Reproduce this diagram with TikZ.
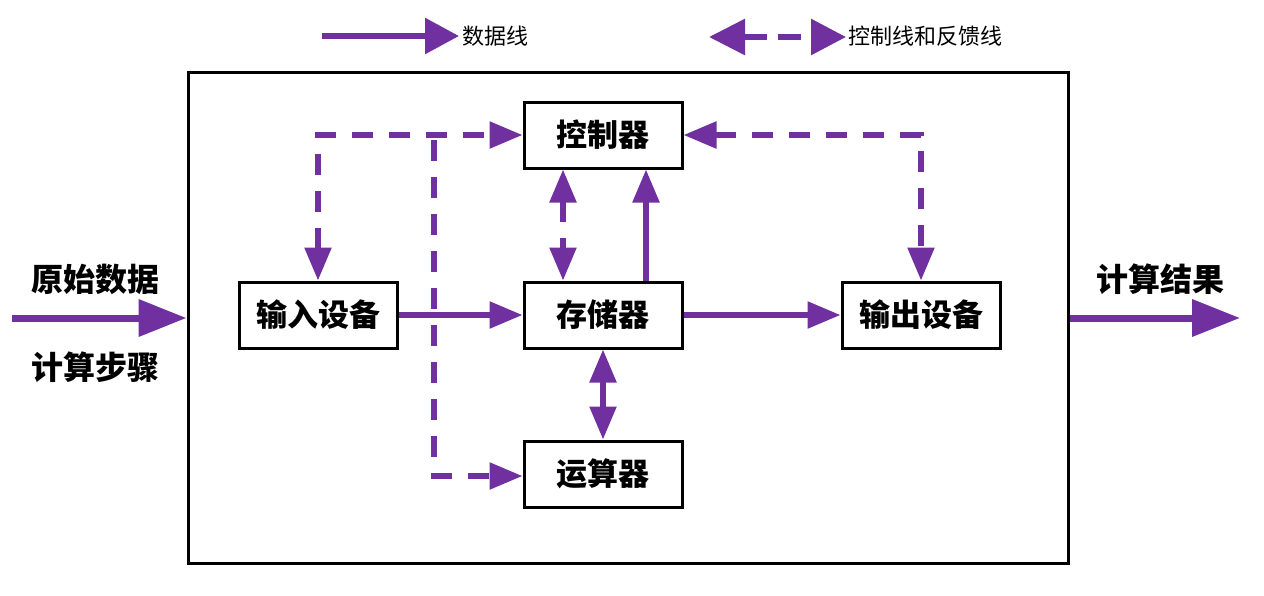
\documentclass[tikz,border=0pt]{standalone}
\usepackage{fontspec}
\setmainfont{Noto Sans CJK SC}
\usetikzlibrary{arrows.meta}
\definecolor{purp}{HTML}{7030A0}
\tikzset{
  box/.style={draw=black, line width=3pt, fill=white, minimum width=158pt, minimum height=66pt, inner sep=0pt, font=\fontsize{31}{34}\selectfont\bfseries},
  data/.style={draw=purp, line width=5.5pt, -{Triangle[length=33pt,width=26pt]}},
  data2/.style={draw=purp, line width=5.5pt, {Triangle[length=33pt,width=26pt]}-{Triangle[length=33pt,width=26pt]}},
  ctl/.style={draw=purp, line width=5.5pt, dash pattern=on 21pt off 16pt, -{Triangle[length=33pt,width=26pt]}},
  ctl2/.style={draw=purp, line width=5.5pt, dash pattern=on 21pt off 16pt, {Triangle[length=33pt,width=26pt]}-{Triangle[length=33pt,width=26pt]}},
  big/.style={draw=purp, line width=7pt, -{Triangle[length=48pt,width=36pt]}},
  side/.style={font=\fontsize{32}{36}\selectfont\bfseries},
  legend/.style={font=\fontsize{22}{25}\selectfont, anchor=west, inner sep=0pt}
}
\begin{document}
\begin{tikzpicture}[x=1pt,y=-1pt]
\useasboundingbox (0,0) rectangle (1264,595);
% frame
\node[draw=black, line width=3pt, minimum width=880pt, minimum height=491pt, inner sep=0pt] (frame) at (628,317.5) {};
% boxes
\node[box] (ctrl) at (603,135) {控制器};
\node[box] (store) at (603,315) {存储器};
\node[box] (alu) at (603,474) {运算器};
\node[box] (in) at (318,315) {输入设备};
\node[box] (out) at (921,315) {输出设备};
% data lines
\draw[data] (in.east) -- (store.west);
\draw[data] (store.east) -- (out.west);
\draw[data] ([xshift=43pt]store.north) -- ([xshift=43pt]ctrl.south);
\draw[data2] (store.south) -- (alu.north);
% control lines
\draw[ctl2] ([xshift=-40pt]ctrl.south) -- ([xshift=-40pt]store.north);
\draw[ctl2] (in.north) |- (ctrl.west);
\coordinate (br) at (434,140);
\draw[ctl] (br) |- ([yshift=-2pt]alu.west);
\draw[ctl2] (ctrl.east) -| (out.north);
% side arrows
\coordinate (src) at (12,318);
\coordinate (dst) at (1240,318);
\draw[big] (src) -- (frame.west |- src);
\draw[big] (frame.east |- dst) -- (dst);
\node[side] (l1) at (95,279) {原始数据};
\node[side] (l2) at (95,367) {计算步骤};
\node[side] (r1) at (1160,279) {计算结果};
% legend
\coordinate (a1) at (322,36);
\coordinate (a2) at (459,36);
\draw[draw=purp, line width=6pt, -{Triangle[length=34pt,width=35pt]}] (a1) -- (a2);
\node[legend] (t1) at (462,36) {数据线};
\coordinate (b1) at (709,37);
\coordinate (b2) at (846,37);
\draw[draw=purp, line width=6pt, dash pattern=on 23pt off 11pt, {Triangle[length=36pt,width=35pt]}-{Triangle[length=35pt,width=35pt]}] (b1) -- (b2);
\node[legend] (t2) at (848,36) {控制线和反馈线};
\end{tikzpicture}
\end{document}
